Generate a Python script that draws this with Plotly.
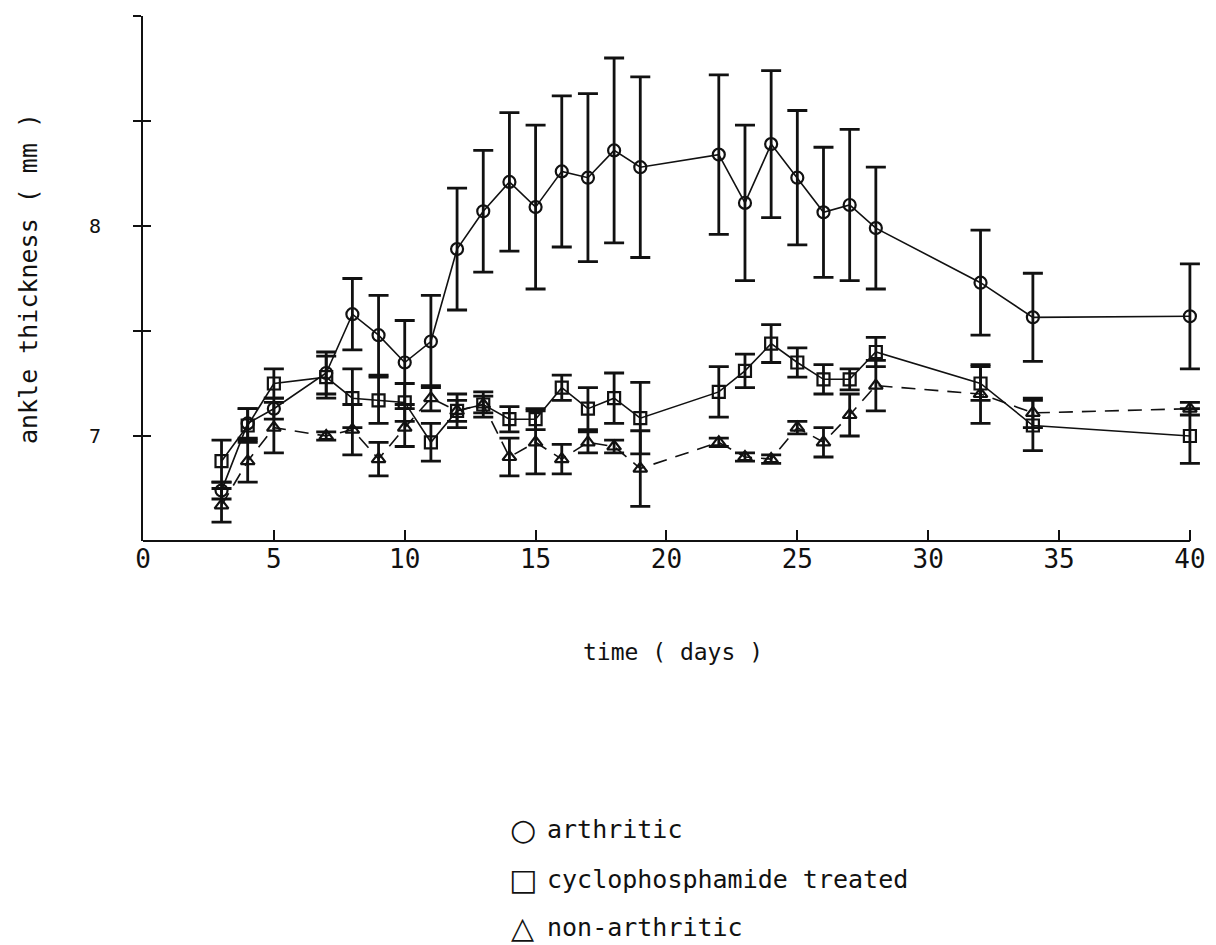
import plotly.graph_objects as go

# ---- data ----
days = [3, 4, 5, 7, 8, 9, 10, 11, 12, 13, 14, 15, 16, 17, 18, 19, 22, 23, 24, 25, 26, 27, 28, 32, 34, 40]

arthritic = [6.74, 7.06, 7.13, 7.30, 7.58, 7.48, 7.35, 7.45, 7.89, 8.07, 8.21, 8.09, 8.26, 8.23,
             8.36, 8.28, 8.34, 8.11, 8.39, 8.23, 8.065, 8.10, 7.99, 7.73, 7.565, 7.57]
arthritic_err = [0.04, 0.07, 0.05, 0.10, 0.17, 0.19, 0.20, 0.22, 0.29, 0.29, 0.33, 0.39, 0.36, 0.40,
                 0.44, 0.43, 0.38, 0.37, 0.35, 0.32, 0.31, 0.36, 0.29, 0.25, 0.21, 0.25]

cyclo = [6.88, 7.05, 7.25, 7.28, 7.18, 7.17, 7.16, 6.97, 7.12, 7.15, 7.08, 7.08, 7.23, 7.13,
         7.18, 7.085, 7.21, 7.31, 7.44, 7.35, 7.27, 7.27, 7.40, 7.25, 7.05, 7.00]
cyclo_err = [0.10, 0.08, 0.07, 0.10, 0.14, 0.11, 0.09, 0.09, 0.08, 0.06, 0.06, 0.05, 0.06, 0.10,
             0.12, 0.17, 0.12, 0.08, 0.09, 0.07, 0.07, 0.05, 0.07, 0.08, 0.12, 0.13]

nonarth = [6.67, 6.88, 7.04, 7.00, 7.03, 6.89, 7.04, 7.18, 7.12, 7.15, 6.90, 6.97, 6.89, 6.97,
           6.95, 6.845, 6.97, 6.90, 6.89, 7.04, 6.97, 7.10, 7.24, 7.20, 7.11, 7.13]
nonarth_err = [0.08, 0.10, 0.12, 0.02, 0.12, 0.08, 0.09, 0.06, 0.05, 0.04, 0.09, 0.15, 0.07, 0.05,
               0.03, 0.18, 0.02, 0.02, 0.02, 0.03, 0.07, 0.10, 0.12, 0.14, 0.07, 0.03]

x_ticks = [0, 5, 10, 15, 20, 25, 30, 35, 40]
y_ticks = [7, 7.5, 8, 8.5, 9]
y_ticktext = ["7", "", "8", "", ""]

legend_symbols = ["\u25CB", "\u25A1", "\u25B3"]
legend_labels = ["arthritic", "cyclophosphamide treated", "non-arthritic"]

FONT = "DejaVu Sans Mono, DejaVu Sans, monospace"
BLACK = "#111111"

fig = go.Figure()

series = [
    (arthritic, arthritic_err, "circle-open", "solid", legend_labels[0]),
    (cyclo, cyclo_err, "square-open", "solid", legend_labels[1]),
    (nonarth, nonarth_err, "triangle-up-open", "14px,9px", legend_labels[2]),
]

for vals, errs, sym, dash, name in series:
    fig.add_trace(go.Scatter(
        x=days, y=vals, name=name, mode="lines+markers",
        line=dict(color=BLACK, width=1.6, dash=dash),
        marker=dict(symbol=sym, size=12, color=BLACK, line=dict(color=BLACK, width=2.2)),
        error_y=dict(type="data", array=errs, visible=True, color=BLACK, thickness=2.8, width=10),
        cliponaxis=False, showlegend=False,
    ))

# invisible trace to realise the overlaid tick axis (ticks crossing the y axis)
fig.add_trace(go.Scatter(x=[None], y=[None], yaxis="y2", showlegend=False, hoverinfo="skip"))

fig.update_layout(
    width=1216, height=945,
    margin=dict(l=143, r=10, t=16, b=404),
    paper_bgcolor="white", plot_bgcolor="white",
    font=dict(family=FONT, color=BLACK),
    xaxis=dict(
        range=[0, 40.5], tickvals=x_ticks, ticks="inside", ticklen=11, tickwidth=2, tickcolor=BLACK,
        showline=False, showgrid=False, zeroline=False,
        tickfont=dict(size=26, family=FONT),
        title=dict(text="time ( days )", font=dict(size=23, family=FONT), standoff=70),
    ),
    yaxis=dict(
        range=[6.5, 9], tickvals=y_ticks, ticktext=y_ticktext, ticks="outside", ticklen=8,
        tickwidth=2, tickcolor=BLACK, showline=True, linecolor=BLACK, linewidth=2,
        showgrid=False, zeroline=False, tickfont=dict(size=20, family=FONT),
        ticklabelstandoff=28,
        title=dict(text="ankle thickness ( mm )", font=dict(size=25, family=FONT), standoff=44),
    ),
    yaxis2=dict(
        range=[6.5, 9], overlaying="y", anchor="x", side="left", tickvals=y_ticks,
        ticks="inside", ticklen=8, tickwidth=2, tickcolor=BLACK, showticklabels=False,
        showline=False, showgrid=False, zeroline=False,
    ),
)

# x axis line ending at day 40 (range is padded so the last error bars are not clipped)
fig.add_shape(type="line", xref="x", yref="paper", x0=-0.3, x1=40, y0=0, y1=0,
              line=dict(color=BLACK, width=2))

legend_y = [-0.55, -0.645, -0.737]
for sym, txt, yy in zip(legend_symbols, legend_labels, legend_y):
    fig.add_annotation(
        text=sym, xref="paper", yref="paper", x=(524 - 143) / 1063, y=yy,
        xanchor="center", yanchor="middle", showarrow=False,
        font=dict(size=30, family="DejaVu Sans", color=BLACK),
    )
    fig.add_annotation(
        text=txt, xref="paper", yref="paper", x=(546 - 143) / 1063, y=yy,
        xanchor="left", yanchor="middle", showarrow=False,
        font=dict(size=25, family=FONT, color=BLACK),
    )

fig.write_html("out.html")
